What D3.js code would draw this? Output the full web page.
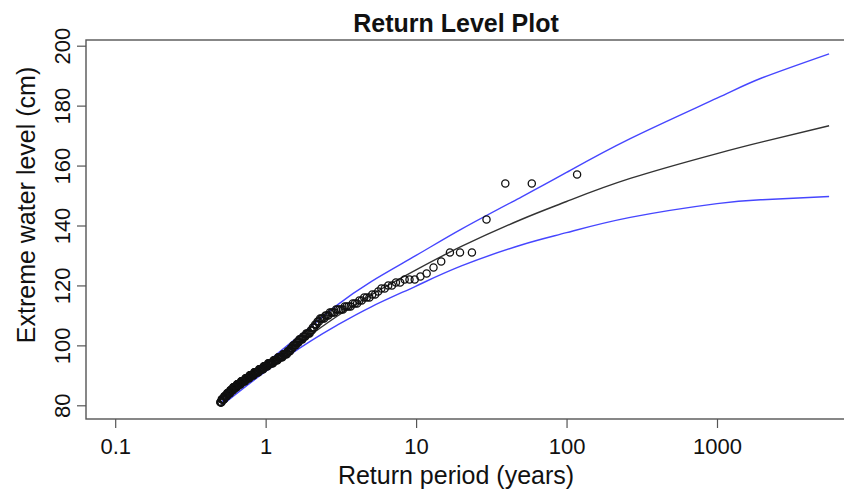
<!DOCTYPE html>
<html>
<head>
<meta charset="utf-8">
<script src="https://cdn.jsdelivr.net/npm/d3@7"></script>
<style>
    html, body { margin: 0; padding: 0; background: #fff; }
    svg { display: block; font-family: "Liberation Sans", Arial, Helvetica, sans-serif; }
</style>
</head>
<body>
<svg id="chart" width="844" height="493"></svg>
<script>
// Fitted return level curve + 95% bounds
const curvePeriods = [0.5, 1, 2, 3, 5, 10, 20, 50, 100, 265, 1000, 2000, 5560];
const fitLevels    = [80, 92.5, 103.6, 109.8, 116.8, 125.2, 133, 142, 148, 155.7, 164, 167.9, 173.3];
const upperLevels  = [80.8, 94, 106.3, 113.5, 121.2, 130, 138.8, 149.5, 157.7, 169, 182.5, 189.3, 197.3];
const lowerLevels  = [79.6, 91.3, 101.5, 106.8, 112.8, 119.8, 126.5, 133.5, 137.6, 142.7, 147.3, 148.6, 149.7];

// Observed exceedances (cm), largest first, with how many times each level occurs
const obsLevels = [157, 154, 142, 131, 128, 126, 124, 123, 122, 121, 120, 119, 118, 117, 116, 115,
                   114, 113, 112, 111, 110, 109, 108, 107, 106, 105, 104, 103, 102, 101, 100, 99,
                   98, 97, 96, 95, 94, 93, 92, 91, 90, 89, 88, 87, 86, 85, 84, 83, 82, 81];
const obsCounts = [1, 2, 1, 3, 1, 1, 1, 1, 3, 2, 2, 2, 1, 2, 3, 2,
                   3, 4, 5, 4, 3, 4, 2, 2, 2, 2, 4, 3, 4, 3, 4, 3,
                   4, 6, 7, 7, 9, 8, 9, 10, 10, 10, 11, 11, 11, 9, 10, 9, 9, 5];
// plotting position: period = recordYears / rank (rank 1 = largest)
const recordYears = 117.5;

const xTicks = [0.1, 1, 10, 100, 1000];
const xTickLabels = ['0.1', '1', '10', '100', '1000'];
const yTicks = [80, 100, 120, 140, 160, 180, 200];

const svg = d3.select('#chart');
const box = { left: 86, top: 40, right: 858, bottom: 419 };

const x = d3.scaleLog()
    .domain([0.1, 1000])
    .range([115.2, 717]);

const y = d3.scaleLinear()
    .domain([80, 200])
    .range([405.3, 45.7]);

// points
const obs = [];
obsLevels.forEach((lv, i) => {
    for (let c = 0; c < obsCounts[i]; c++) obs.push(lv);
});
const points = obs.map((lv, i) => ({ period: recordYears / (i + 1), level: lv }));

// curves
const line = d3.line()
    .x(d => x(d[0]))
    .y(d => y(d[1]))
    .curve(d3.curveNatural);

const series = [
    { values: upperLevels, color: '#4646ff' },
    { values: lowerLevels, color: '#4646ff' },
    { values: fitLevels, color: '#333' }
];

series.forEach(s => {
    svg.append('path')
        .datum(curvePeriods.map((p, i) => [p, s.values[i]]))
        .attr('fill', 'none')
        .attr('stroke', s.color)
        .attr('stroke-width', 1.4)
        .attr('d', line);
});

svg.append('g')
    .selectAll('circle')
    .data(points)
    .enter()
    .append('circle')
    .attr('cx', d => x(d.period))
    .attr('cy', d => y(d.level))
    .attr('r', 3.6)
    .attr('fill', 'none')
    .attr('stroke', '#111')
    .attr('stroke-width', 1.3);

// frame
svg.append('rect')
    .attr('x', box.left)
    .attr('y', box.top)
    .attr('width', box.right - box.left)
    .attr('height', box.bottom - box.top)
    .attr('fill', 'none')
    .attr('stroke', '#555')
    .attr('stroke-width', 1.4);

// x axis
const xAxis = svg.append('g')
    .attr('transform', `translate(0, ${box.bottom})`)
    .call(d3.axisBottom(x)
        .tickValues(xTicks)
        .tickFormat((d, i) => xTickLabels[i])
        .tickSize(9));
xAxis.select('.domain').remove();
xAxis.selectAll('line').attr('stroke', '#555').attr('stroke-width', 1.2);
xAxis.selectAll('text')
    .attr('y', 35)
    .attr('dy', 0)
    .attr('fill', '#111')
    .attr('font-size', '22px')
    .attr('font-family', '"Liberation Sans", Arial, sans-serif');

// y axis
const yAxis = svg.append('g')
    .attr('transform', `translate(${box.left}, 0)`)
    .call(d3.axisLeft(y)
        .tickValues(yTicks)
        .tickSize(9));
yAxis.select('.domain').remove();
yAxis.selectAll('line').attr('stroke', '#555').attr('stroke-width', 1.2);
yAxis.selectAll('text')
    .attr('transform', 'rotate(-90)')
    .attr('x', 0)
    .attr('y', -16)
    .attr('dy', 0)
    .attr('text-anchor', 'middle')
    .attr('fill', '#111')
    .attr('font-size', '22px')
    .attr('font-family', '"Liberation Sans", Arial, sans-serif');

// titles
svg.append('text')
    .attr('x', 456)
    .attr('y', 32)
    .attr('text-anchor', 'middle')
    .attr('font-size', '25px')
    .attr('font-weight', 'bold')
    .attr('fill', '#111')
    .text('Return Level Plot');

svg.append('text')
    .attr('x', 456)
    .attr('y', 484)
    .attr('text-anchor', 'middle')
    .attr('font-size', '25px')
    .attr('fill', '#111')
    .text('Return period (years)');

svg.append('text')
    .attr('transform', 'translate(35, 205) rotate(-90)')
    .attr('text-anchor', 'middle')
    .attr('font-size', '25px')
    .attr('fill', '#111')
    .text('Extreme water level (cm)');
</script>
</body>
</html>
